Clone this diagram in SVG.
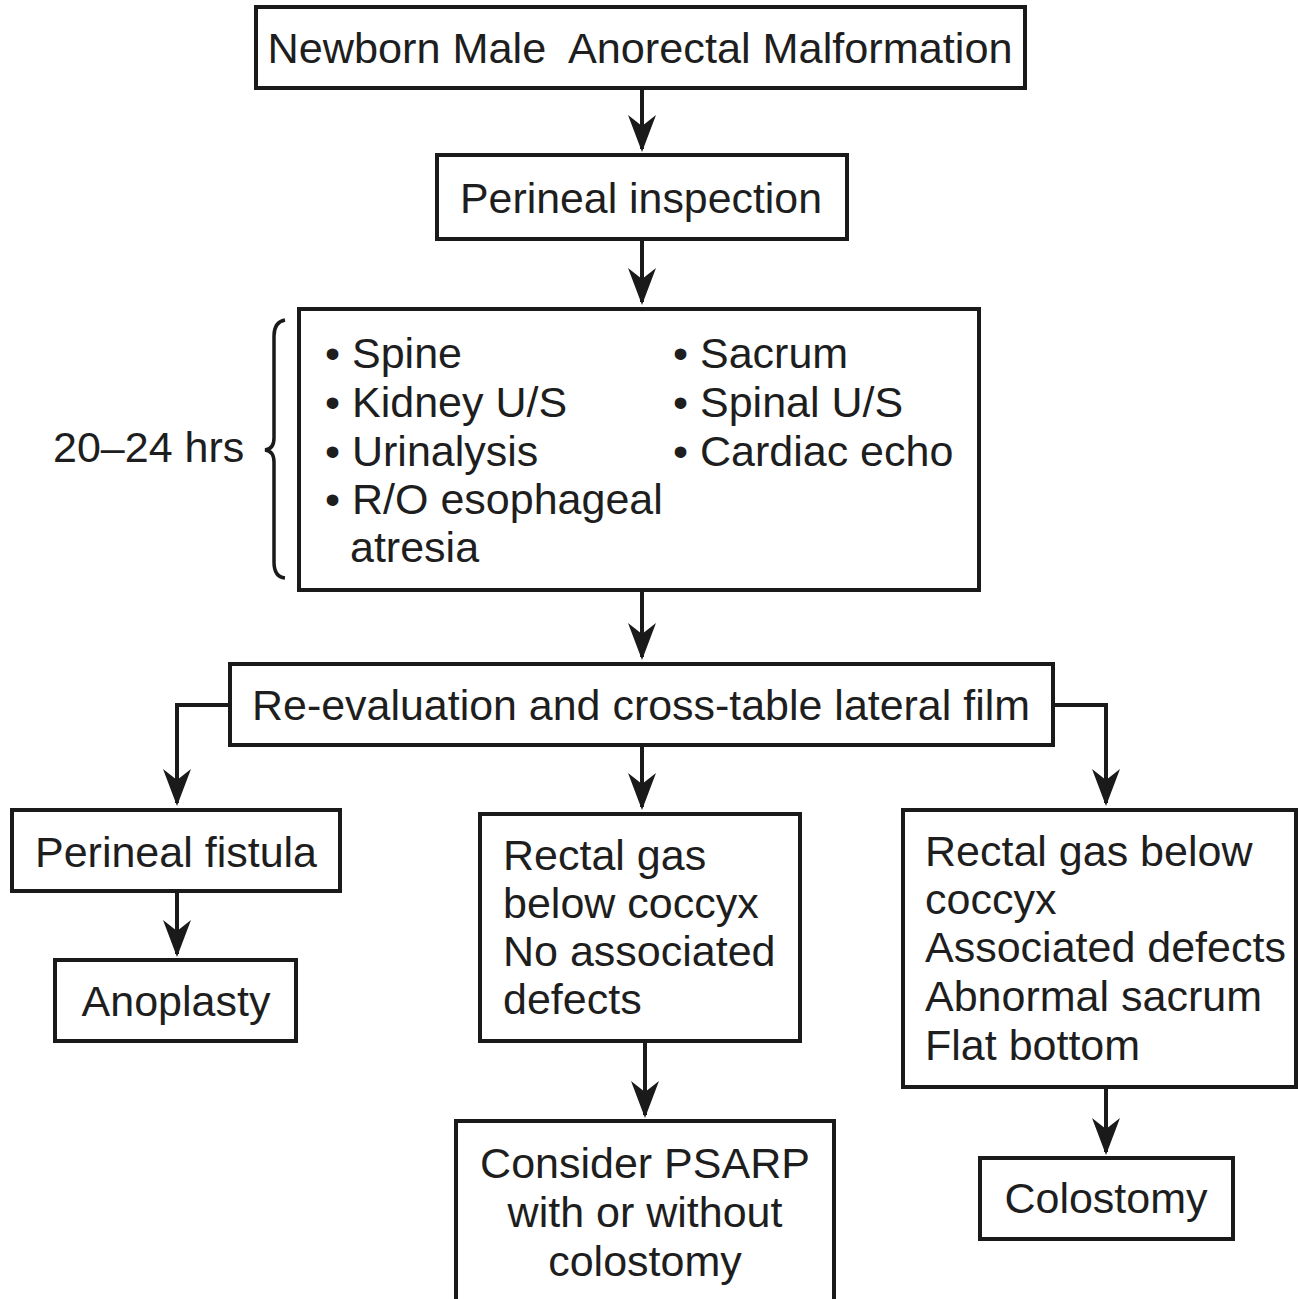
<svg xmlns="http://www.w3.org/2000/svg" width="1298" height="1299" viewBox="0 0 1298 1299">
<style>
.box{fill:#fff;stroke:#1a1a1a;stroke-width:4}
.t{font-family:"Liberation Sans",Arial,sans-serif;font-size:43px;fill:#1e1e1e}
.c{text-anchor:middle}
.cn{stroke:#1a1a1a;stroke-width:4;fill:none}
</style>
<defs>
<marker id="ah" markerUnits="userSpaceOnUse" markerWidth="60" markerHeight="60" refX="0" refY="0" viewBox="-40 -20 60 40" orient="auto" overflow="visible">
<path d="M3,0 L-34,-14 L-23,0 L-34,14 Z" fill="#1a1a1a"/>
</marker>
</defs>
<rect width="1298" height="1299" fill="#fff"/>
<g id="connectors">
<path class="cn" d="M642,88 V149" marker-end="url(#ah)"/>
<path class="cn" d="M642,239 V302" marker-end="url(#ah)"/>
<path class="cn" d="M642,590 V657" marker-end="url(#ah)"/>
<path class="cn" d="M230,705 H177 V803" marker-end="url(#ah)"/>
<path class="cn" d="M642,745 V807" marker-end="url(#ah)"/>
<path class="cn" d="M1053,705 H1106 V803" marker-end="url(#ah)"/>
<path class="cn" d="M177,891 V954" marker-end="url(#ah)"/>
<path class="cn" d="M645,1041 V1115" marker-end="url(#ah)"/>
<path class="cn" d="M1106,1087 V1152" marker-end="url(#ah)"/>
</g>
<g id="n1"><rect class="box" x="256" y="7" width="769" height="81"/><text class="t c" x="640" y="63" textLength="745" lengthAdjust="spacingAndGlyphs" xml:space="preserve">Newborn Male  Anorectal Malformation</text></g>
<g id="n2"><rect class="box" x="437" y="155" width="410" height="84"/><text class="t c" x="641" y="213" textLength="362" lengthAdjust="spacingAndGlyphs">Perineal inspection</text></g>
<g id="n3"><rect class="box" x="299" y="309" width="680" height="281"/>
<text class="t" x="325" y="368">• Spine</text>
<text class="t" x="325" y="417">• Kidney U/S</text>
<text class="t" x="325" y="466">• Urinalysis</text>
<text class="t" x="325" y="514">• R/O esophageal</text>
<text class="t" x="350" y="562">atresia</text>
<text class="t" x="673" y="368">• Sacrum</text>
<text class="t" x="673" y="417">• Spinal U/S</text>
<text class="t" x="673" y="466">• Cardiac echo</text>
</g>
<g id="brace"><path d="M285,320 Q274,322 274,336 V438 Q274,449 265,450 Q274,451 274,462 V562 Q274,577 285,578" fill="none" stroke="#1a1a1a" stroke-width="3.5"/><text class="t" x="53" y="462">20–24 hrs</text></g>
<g id="n4"><rect class="box" x="230" y="664" width="823" height="81"/><text class="t c" x="641" y="720" textLength="778" lengthAdjust="spacingAndGlyphs">Re-evaluation and cross-table lateral film</text></g>
<g id="n5"><rect class="box" x="12" y="810" width="328" height="81"/><text class="t c" x="176" y="867">Perineal fistula</text></g>
<g id="n6"><rect class="box" x="55" y="960" width="241" height="81"/><text class="t c" x="176" y="1016">Anoplasty</text></g>
<g id="n7"><rect class="box" x="480" y="814" width="320" height="227"/>
<text class="t" x="503" y="870">Rectal gas</text>
<text class="t" x="503" y="918">below coccyx</text>
<text class="t" x="503" y="966">No associated</text>
<text class="t" x="503" y="1014">defects</text>
</g>
<g id="n8"><rect class="box" x="456" y="1121" width="378" height="200"/>
<text class="t c" x="645" y="1178">Consider PSARP</text>
<text class="t c" x="645" y="1227">with or without</text>
<text class="t c" x="645" y="1276">colostomy</text>
</g>
<g id="n9"><rect class="box" x="903" y="810" width="393" height="277"/>
<text class="t" x="925" y="866">Rectal gas below</text>
<text class="t" x="925" y="914">coccyx</text>
<text class="t" x="925" y="962">Associated defects</text>
<text class="t" x="925" y="1011">Abnormal sacrum</text>
<text class="t" x="925" y="1060">Flat bottom</text>
</g>
<g id="n10"><rect class="box" x="980" y="1158" width="253" height="81"/><text class="t c" x="1106" y="1213">Colostomy</text></g>
</svg>
